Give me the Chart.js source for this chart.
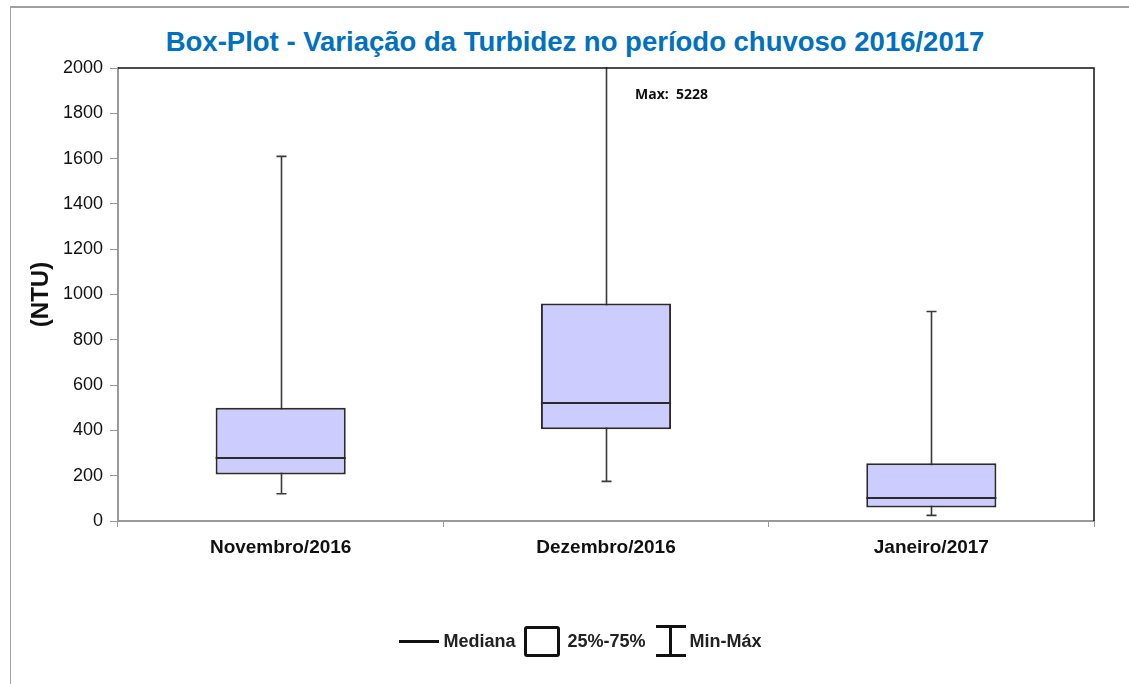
<!DOCTYPE html>
<html lang="pt">
<head>
<meta charset="utf-8">
<title>Box-Plot Turbidez</title>
<script src="https://cdn.jsdelivr.net/npm/chart.js@4.4.1/dist/chart.umd.min.js"></script>
<style>
    html, body { margin: 0; padding: 0; background: #fff; }
    body { width: 1129px; height: 684px; position: relative; overflow: hidden; font-family: "Liberation Sans", Arial, sans-serif; }
    #wrap { position: absolute; left: 0; top: 0; width: 1129px; height: 684px; }
    .frame-top { position: absolute; left: 10px; top: 6px; width: 1119px; height: 2px; background: #a0a0a0; }
    .frame-left { position: absolute; left: 10px; top: 6px; width: 1px; height: 678px; background: #a0a0a0; }
    #titulo { position: absolute; left: 20px; width: 1110px; top: 25px; text-align: center; color: #0070c0;
        font-weight: bold; font-size: 27.5px; line-height: 34px; }
    #legend { position: absolute; left: 32px; width: 1097px; top: 625px; display: flex; justify-content: center; align-items: center;
        font-weight: bold; font-size: 18px; color: #222; }
    .lg-line { width: 40px; height: 3px; background: #111; margin-right: 4px; }
    .lg-box { width: 30px; height: 25px; border: 3px solid #111; border-radius: 3px; margin: 0 7px 0 9px; }
    .lg-ibeam { position: relative; width: 30px; height: 32px; margin: 0 4px 0 10px; }
    .lg-ibeam span { position: absolute; background: #111; }
</style>
</head>
<body>
<div class="frame-top"></div>
<div class="frame-left"></div>
<div id="titulo">Box-Plot - Variação da Turbidez no período chuvoso 2016/2017</div>
<div id="wrap"><canvas id="boxplot"></canvas></div>
<div id="legend">
    <div class="lg-line"></div><span>Mediana</span>
    <div class="lg-box"></div><span>25%-75%</span>
    <div class="lg-ibeam">
        <span style="left:0;top:0;width:30px;height:3px"></span>
        <span style="left:13px;top:0;width:3px;height:32px"></span>
        <span style="left:0;top:29px;width:30px;height:3px"></span>
    </div><span>Min-Máx</span>
</div>
<script>
    // --- Dados ---
    const meses = ['Novembro/2016', 'Dezembro/2016', 'Janeiro/2017'];
    const minimos = [120, 175, 25];
    const quartil1 = [205, 405, 60];
    const medianas = [280, 520, 100];
    const quartil3 = [500, 960, 255];
    const maximos = [1610, 5228, 925];
    const yTicks = [0, 200, 400, 600, 800, 1000, 1200, 1400, 1600, 1800, 2000];

    const corLinha = '#2b2b2b';

    // plugin para bigodes, medianas e rótulo do máximo fora da escala
    const boxPlotPlugin = {
        id: 'boxPlotExtras',
        beforeDatasetsDraw(chart) {
            const { ctx, chartArea, scales } = chart;
            const meta = chart.getDatasetMeta(0);
            ctx.save();
            ctx.beginPath();
            ctx.rect(chartArea.left, chartArea.top - 1, chartArea.right - chartArea.left, chartArea.bottom - chartArea.top + 2);
            ctx.clip();
            ctx.strokeStyle = '#3a3a3a';
            ctx.lineWidth = 1.6;
            meta.data.forEach((bar, i) => {
                const x = Math.round(bar.x) + 0.5;
                const yMin = scales.y.getPixelForValue(minimos[i]);
                const yMax = scales.y.getPixelForValue(maximos[i]);
                ctx.beginPath();
                ctx.moveTo(x, yMin);
                ctx.lineTo(x, yMax);
                ctx.moveTo(x - 5, yMin);
                ctx.lineTo(x + 5, yMin);
                ctx.moveTo(x - 5, yMax);
                ctx.lineTo(x + 5, yMax);
                ctx.stroke();
            });
            ctx.restore();
        },
        afterDatasetsDraw(chart) {
            const { ctx, chartArea, scales } = chart;
            const meta = chart.getDatasetMeta(0);
            ctx.save();
            ctx.strokeStyle = corLinha;
            ctx.lineWidth = 2;
            meta.data.forEach((bar, i) => {
                const half = bar.width / 2;
                const y = Math.round(scales.y.getPixelForValue(medianas[i]));
                ctx.beginPath();
                ctx.moveTo(bar.x - half, y);
                ctx.lineTo(bar.x + half, y);
                ctx.stroke();
                if (maximos[i] > scales.y.max) {
                    ctx.fillStyle = '#111';
                    ctx.font = 'bold 14px "Open Sans", "Noto Sans", sans-serif';
                    ctx.textAlign = 'left';
                    ctx.textBaseline = 'middle';
                    ctx.fillText('Max:  ' + maximos[i], bar.x + 29, chartArea.top + 27);
                }
            });
            // moldura da área do gráfico
            ctx.strokeStyle = '#111';
            ctx.lineWidth = 1.5;
            ctx.beginPath();
            ctx.moveTo(chartArea.left, chartArea.top);
            ctx.lineTo(chartArea.right, chartArea.top);
            ctx.lineTo(chartArea.right, chartArea.bottom);
            ctx.stroke();
            ctx.restore();
        }
    };

    const ctx = document.getElementById('boxplot').getContext('2d');
    new Chart(ctx, {
        type: 'bar',
        data: {
            labels: meses,
            datasets: [{
                label: '25%-75%',
                data: quartil1.map((q1, i) => [q1, quartil3[i]]),
                backgroundColor: '#ccccff',
                borderColor: corLinha,
                borderWidth: 2,
                borderSkipped: false,
                barPercentage: 0.4,
                categoryPercentage: 1
            }]
        },
        options: {
            responsive: true,
            maintainAspectRatio: false,
            animation: false,
            layout: { padding: { left: 20, right: 35, top: 68, bottom: 113 } },
            plugins: {
                legend: { display: false },
                tooltip: { enabled: false },
                title: { display: false }
            },
            scales: {
                x: {
                    grid: { drawOnChartArea: false, drawTicks: true, tickLength: 6, color: '#999' },
                    border: { color: '#999', width: 2 },
                    ticks: {
                        color: '#111',
                        padding: 9,
                        font: { family: '"Liberation Sans", Arial, sans-serif', size: 19, weight: 'bold' }
                    },
                    afterFit(scale) { scale.height = 50; }
                },
                y: {
                    min: 0,
                    max: 2000,
                    afterBuildTicks(scale) { scale.ticks = yTicks.map(v => ({ value: v })); },
                    grid: { drawOnChartArea: false, drawTicks: true, tickLength: 8, color: '#999' },
                    border: { color: '#999', width: 2 },
                    ticks: {
                        color: '#111',
                        padding: 7,
                        font: { family: '"Liberation Sans", Arial, sans-serif', size: 18 },
                        callback: (value) => String(value)
                    },
                    title: {
                        display: true,
                        text: '(NTU)',
                        color: '#111',
                        font: { family: '"Liberation Sans", Arial, sans-serif', size: 24, weight: 'bold' },
                        padding: { top: 7, bottom: 0 }
                    },
                    afterFit(scale) { scale.width = 98; }
                }
            }
        },
        plugins: [boxPlotPlugin]
    });
</script>
</body>
</html>
